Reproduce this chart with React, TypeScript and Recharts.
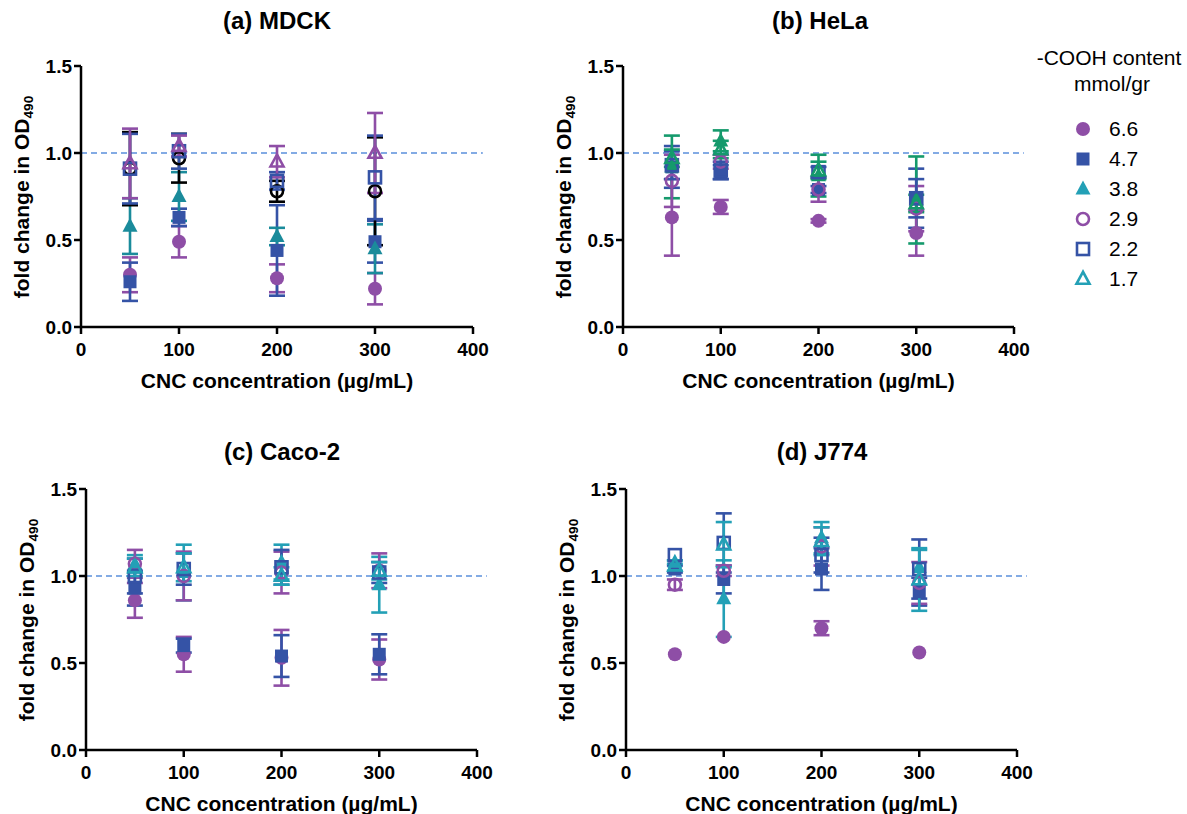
import { ScatterChart, Scatter, XAxis, YAxis, ErrorBar, ReferenceLine } from 'recharts';

const FONT = '"Liberation Sans", Arial, Helvetica, sans-serif';

const CONC = [50, 100, 200, 300];
const X_TICKS = [0, 100, 200, 300, 400];
const Y_TICKS = [0, 0.5, 1, 1.5];
const CONTENT = ['6.6', '4.7', '3.8', '2.9', '2.2', '1.7'];
const SHAPES = ['circle', 'square', 'triangle', 'circle', 'square', 'triangle'];
const OPEN = [false, false, false, true, true, true];

const PURPLE = '#8e4ea6';
const BLUE = '#3553a6';
const TEAL = '#1a8b9b';
const GREEN = '#159a6c';
const CYAN = '#23a0b6';

// rows follow CONTENT, columns follow CONC
const MDCK_MEAN = [
  [0.30, 0.49, 0.28, 0.22],
  [0.26, 0.63, 0.44, 0.49],
  [0.58, 0.75, 0.52, 0.45],
  [0.91, 0.97, 0.78, 0.78],
  [0.91, 1.01, 0.84, 0.86],
  [0.94, 1.04, 0.95, 1.00],
];
const MDCK_SD = [
  [0.10, 0.09, 0.08, 0.09],
  [0.11, 0.05, 0.26, 0.12],
  [0.16, 0.14, 0.05, 0.14],
  [0.21, 0.14, 0.06, 0.31],
  [0.20, 0.10, 0.05, 0.24],
  [0.20, 0.06, 0.09, 0.23],
];
const HELA_MEAN = [
  [0.63, 0.69, 0.61, 0.54],
  [0.92, 0.89, 0.79, 0.74],
  [0.92, 1.07, 0.87, 0.73],
  [0.84, 0.95, 0.79, 0.68],
  [0.93, 0.90, 0.89, 0.74],
  [0.97, 1.02, 0.90, 0.71],
];
const HELA_SD = [
  [0.22, 0.04, 0.01, 0.13],
  [0.12, 0.04, 0.02, 0.17],
  [0.18, 0.06, 0.12, 0.25],
  [0.15, 0.04, 0.07, 0.13],
  [0.08, 0.05, 0.03, 0.11],
  [0.05, 0.05, 0.05, 0.05],
];
const CACO_MEAN = [
  [0.86, 0.55, 0.53, 0.52],
  [0.93, 0.60, 0.54, 0.55],
  [1.07, 1.02, 1.08, 0.95],
  [1.07, 1.00, 1.02, 1.03],
  [1.00, 1.04, 1.05, 1.02],
  [1.05, 1.05, 1.00, 1.03],
];
const CACO_SD = [
  [0.10, 0.10, 0.16, 0.115],
  [0.10, 0.04, 0.12, 0.115],
  [0.05, 0.16, 0.10, 0.16],
  [0.08, 0.14, 0.12, 0.10],
  [0.10, 0.09, 0.10, 0.06],
  [0.05, 0.08, 0.05, 0.05],
];
const J774_MEAN = [
  [0.55, 0.65, 0.70, 0.56],
  [1.04, 0.98, 1.04, 0.91],
  [1.08, 0.87, 1.22, 1.05],
  [0.95, 1.03, 1.17, 0.96],
  [1.12, 1.19, 1.12, 1.04],
  [1.06, 1.18, 1.20, 0.98],
];
const J774_SD = [
  [0.00, 0.00, 0.04, 0.00],
  [0.02, 0.08, 0.12, 0.08],
  [0.01, 0.22, 0.09, 0.10],
  [0.03, 0.03, 0.11, 0.12],
  [0.00, 0.17, 0.10, 0.17],
  [0.03, 0.13, 0.08, 0.18],
];

const MDCK_COLORS = [PURPLE, BLUE, TEAL, '#000000', BLUE, PURPLE];
const HELA_COLORS = [PURPLE, BLUE, GREEN, PURPLE, BLUE, GREEN];
const CACO_COLORS = [PURPLE, BLUE, CYAN, PURPLE, BLUE, CYAN];
const J774_COLORS = [PURPLE, BLUE, CYAN, PURPLE, BLUE, CYAN];
const LEGEND_COLORS = [PURPLE, BLUE, CYAN, PURPLE, BLUE, CYAN];

function Marker({ cx, cy, kind, open, color }: any) {
  if (cx == null || cy == null) return null;
  const fill = open ? 'none' : color;
  const sw = open ? 2.6 : 0;
  if (kind === 'circle') {
    return <circle cx={cx} cy={cy} r={open ? 6 : 7} fill={fill} stroke={color} strokeWidth={sw} />;
  }
  if (kind === 'square') {
    const s = open ? 12 : 13;
    return <rect x={cx - s / 2} y={cy - s / 2} width={s} height={s} fill={fill} stroke={color} strokeWidth={sw} />;
  }
  const h = open ? 12 : 14;
  const w = open ? 13 : 15;
  const pts = `${cx},${cy - h * 0.6} ${cx - w / 2},${cy + h * 0.4} ${cx + w / 2},${cy + h * 0.4}`;
  return <polygon points={pts} fill={fill} stroke={color} strokeWidth={sw} strokeLinejoin="miter" />;
}

const abs = (x: number, y: number, extra: any = {}) => ({
  position: 'absolute' as const,
  left: x,
  top: y,
  transform: 'translate(-50%, -50%)' + (extra.rotate ? ' rotate(-90deg)' : ''),
  whiteSpace: 'nowrap' as const,
  lineHeight: 1,
  fontFamily: FONT,
  color: '#000',
  ...extra.style,
});

function Panel({ plot, title, titlePos, means, sds, colors }: any) {
  const chartLeft = plot.left - 90;
  const chartTop = plot.top - 20;
  const width = plot.right + 30 - chartLeft;
  const height = plot.bottom + 40 - chartTop;
  const midX = (plot.left + plot.right) / 2;
  const midY = (plot.top + plot.bottom) / 2;
  const axisStyle = { stroke: '#000', strokeWidth: 2.5 };
  const tickStyle = { fill: '#000', fontSize: 19, fontWeight: 700, fontFamily: FONT };
  return (
    <>
      <div style={{ position: 'absolute', left: chartLeft, top: chartTop }}>
        <ScatterChart width={width} height={height} margin={{ top: 20, right: 30, bottom: 0, left: 0 }}>
          <XAxis
            type="number"
            dataKey="x"
            domain={[0, 400]}
            ticks={X_TICKS}
            allowDataOverflow
            height={40}
            axisLine={axisStyle}
            tickLine={axisStyle}
            tickSize={7}
            tickMargin={9}
            tick={tickStyle}
          />
          <YAxis
            type="number"
            dataKey="y"
            domain={[0, 1.5]}
            ticks={Y_TICKS}
            allowDataOverflow
            width={90}
            axisLine={axisStyle}
            tickLine={axisStyle}
            tickSize={7}
            tickMargin={2}
            tick={tickStyle}
            tickFormatter={(v: number) => v.toFixed(1)}
          />
          <ReferenceLine
            segment={[{ x: 0, y: 1 }, { x: 410, y: 1 }]}
            ifOverflow="visible"
            stroke="#5b90dc"
            strokeWidth={1.5}
            strokeDasharray="6 4"
          />
          {CONTENT.map((c, i) => (
            <Scatter
              key={c}
              name={c}
              data={CONC.map((x, j) => ({ x, y: means[i][j], err: sds[i][j] }))}
              isAnimationActive={false}
              shape={(p: any) => <Marker cx={p.cx} cy={p.cy} kind={SHAPES[i]} open={OPEN[i]} color={colors[i]} />}
            >
              <ErrorBar dataKey="err" direction="y" width={8} strokeWidth={2.6} stroke={colors[i]} />
            </Scatter>
          ))}
        </ScatterChart>
      </div>
      <div style={abs(titlePos[0], titlePos[1], { style: { fontSize: 24, fontWeight: 700 } })}>{title}</div>
      <div style={abs(midX, plot.bottom + 53, { style: { fontSize: 21, fontWeight: 700 } })}>
        CNC concentration (µg/mL)
      </div>
      <div style={abs(plot.left - 58, midY, { rotate: true, style: { fontSize: 21, fontWeight: 700 } })}>
        fold change in OD<span style={{ fontSize: '0.65em', verticalAlign: '-0.3em' }}>490</span>
      </div>
    </>
  );
}

function LegendBox() {
  return (
    <svg width={167} height={270} style={{ position: 'absolute', left: 1020, top: 40 }} fontFamily={FONT}>
      <text x={89} y={25} textAnchor="middle" fontSize={21} fill="#000">-COOH content</text>
      <text x={92} y={51} textAnchor="middle" fontSize={21} fill="#000">mmol/gr</text>
      {CONTENT.map((c, i) => (
        <g key={c}>
          <Marker cx={63} cy={89 + i * 30} kind={SHAPES[i]} open={OPEN[i]} color={LEGEND_COLORS[i]} />
          <text x={89} y={89 + i * 30} dy="0.35em" fontSize={21} fill="#000">{c}</text>
        </g>
      ))}
    </svg>
  );
}

export default function App() {
  return (
    <div style={{ position: 'absolute', left: 0, top: 0, width: 1187, height: 814, overflow: 'hidden', background: '#fff' }}>
      <Panel plot={{ left: 81, top: 66, right: 473, bottom: 327 }} title="(a) MDCK" titlePos={[277, 21]}
        means={MDCK_MEAN} sds={MDCK_SD} colors={MDCK_COLORS} />
      <Panel plot={{ left: 623, top: 66, right: 1014, bottom: 327 }} title="(b) HeLa" titlePos={[820, 21]}
        means={HELA_MEAN} sds={HELA_SD} colors={HELA_COLORS} />
      <Panel plot={{ left: 86, top: 489, right: 477, bottom: 750 }} title="(c) Caco-2" titlePos={[282, 452]}
        means={CACO_MEAN} sds={CACO_SD} colors={CACO_COLORS} />
      <Panel plot={{ left: 626, top: 489, right: 1017, bottom: 750 }} title="(d) J774" titlePos={[822, 452]}
        means={J774_MEAN} sds={J774_SD} colors={J774_COLORS} />
      <LegendBox />
    </div>
  );
}
